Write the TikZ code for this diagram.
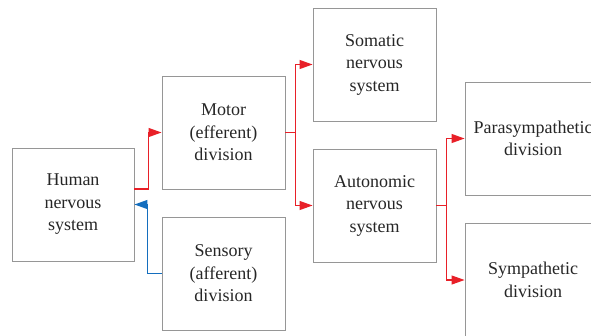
\documentclass[tikz,border=0pt]{standalone}
\usepackage{fontspec}
\setmainfont{Liberation Serif}
\usetikzlibrary{arrows.meta}
\definecolor{boxgray}{RGB}{150,150,150}
\definecolor{arrred}{RGB}{232,32,40}
\definecolor{arrblue}{RGB}{20,110,190}
\begin{document}
\begin{tikzpicture}[x=1pt,y=-1pt,
  box/.style={draw=boxgray,line width=0.9pt,inner sep=0pt,minimum width=123pt,minimum height=113pt,align=center,
    font=\fontsize{18}{22.5}\selectfont,text=black!85},
  wide/.style={box,minimum width=136pt},
  redarr/.style={color=arrred,line width=1.1pt,-{Triangle[length=13pt,width=9pt]}},
  bluearr/.style={color=arrblue,line width=1.1pt,-{Triangle[length=13pt,width=9pt]}}]
\useasboundingbox (0,0) rectangle (591,335);
\node[box,minimum width=122pt] (h) at (73,204.5) {Human\\nervous\\system};
\node[box] (mot) at (223.5,132.5) {Motor\\(efferent)\\division};
\node[box] (sen) at (223.5,273.5) {Sensory\\(afferent)\\division};
\node[box] (som) at (374.5,64.5) {Somatic\\nervous\\system};
\node[box] (aut) at (374.5,205.5) {Autonomic\\nervous\\system};
\node[wide] (par) at (533,138.5) {Parasympathetic\\division};
\node[wide] (sym) at (533,280) {Sympathetic\\division};
\draw[redarr] ([yshift=15.5pt]h.east) -- ++(14,0) |- (mot.west);
\draw[bluearr] (sen.west) -- ++(-14,0) |- (h.east);
\draw[redarr] (mot.east) -- ++(10,0) |- (som.west);
\draw[redarr] (mot.east) -- ++(10,0) |- (aut.west);
\draw[redarr] (aut.east) -- ++(10,0) |- (par.west);
\draw[redarr] (aut.east) -- ++(10,0) |- (sym.west);
\end{tikzpicture}
\end{document}
